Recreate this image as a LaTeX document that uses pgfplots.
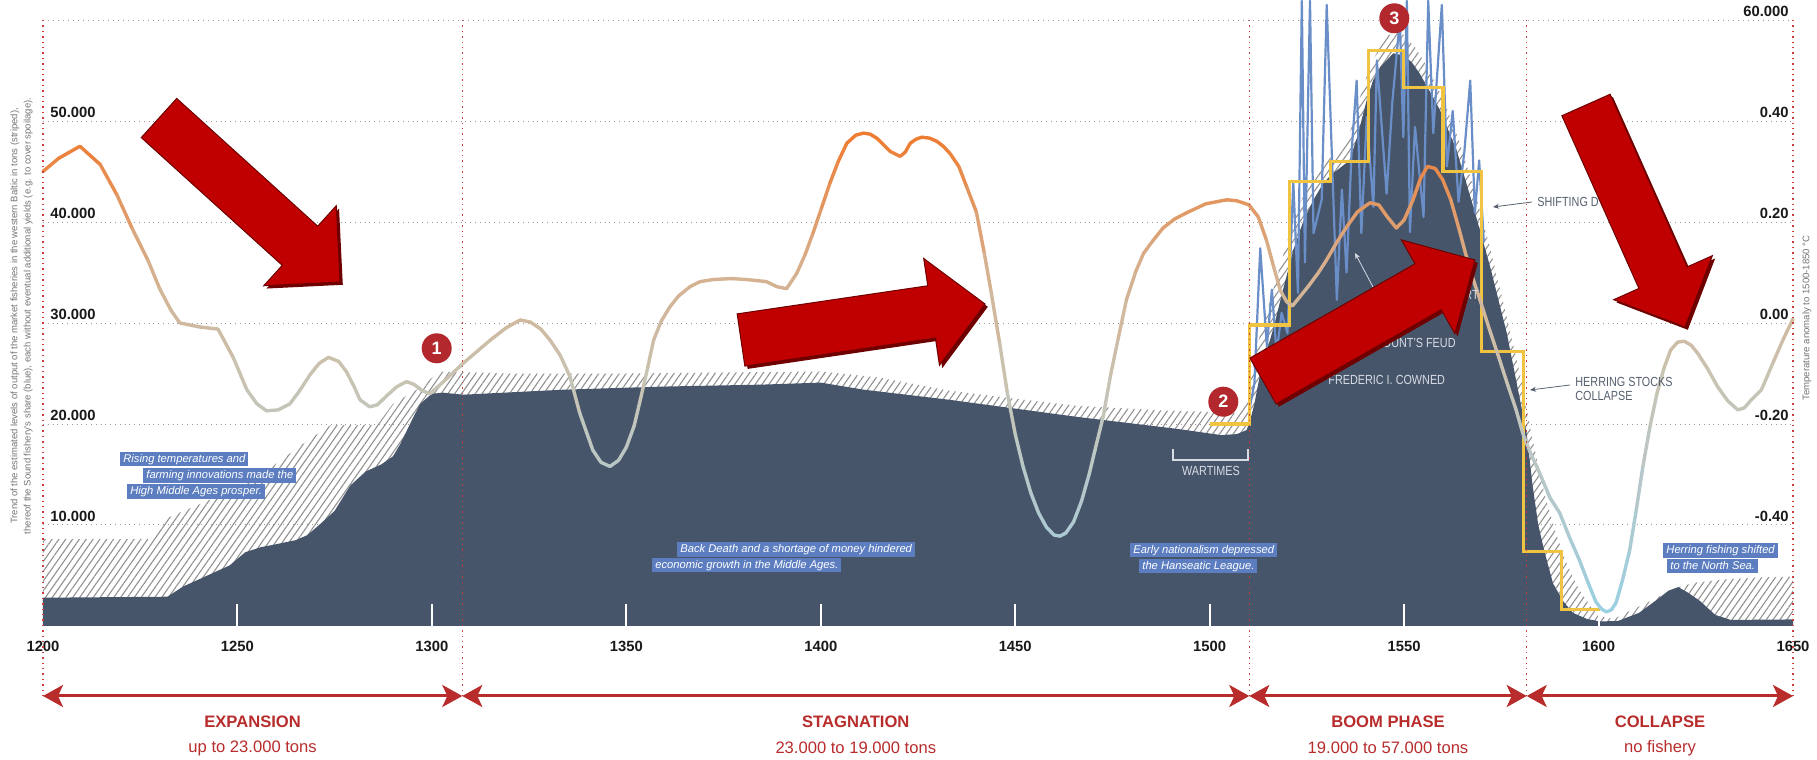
\documentclass[border=0pt]{standalone}
\usepackage{fontspec}
\setmainfont{Liberation Sans}
\newfontfamily\narrowfont[FakeStretch=0.82]{Liberation Sans}
\usepackage{pgfplots}
\usepackage{pgfplotstable}
\pgfplotsset{compat=1.18}
\usetikzlibrary{patterns.meta,calc,arrows.meta}

\definecolor{darkfill}{RGB}{71,85,107}
\definecolor{yellowline}{RGB}{240,196,64}
\definecolor{blueline}{RGB}{106,142,200}
\definecolor{phasered}{RGB}{184,44,44}
\definecolor{arrowred}{RGB}{192,0,0}
\definecolor{arrowdark}{RGB}{110,0,0}
\definecolor{boxblue}{RGB}{92,126,192}
\definecolor{circlered}{RGB}{178,40,45}
\definecolor{graytext}{RGB}{85,95,110}
\definecolor{lighttext}{RGB}{215,220,228}
\definecolor{vred}{RGB}{205,60,60}
\definecolor{hatchgray}{RGB}{145,145,145}

\tikzset{pix/.style={x=0.5pt,y=-0.5pt,shift={(-21.5pt,313pt)}}}

\pgfplotstableread{
year tons
1200 8600
1228 8600
1232 10700
1240 12000
1247 13200
1258 15500
1266 17800
1274 19900
1286 19900
1290 22000
1297 23600
1302 25200
1320 25000
1350 25000
1400 25200
1415 24600
1433 23300
1450 22500
1466 21800
1490 21300
1500 21200
1505 21000
1508 21200
1510 23000
1512 27500
1515 31500
1518 35500
1521 39500
1524 42500
1527 44500
1530 46000
1533 47000
1536 48800
1538 51500
1540 54000
1542 56000
1544 57500
1546 58500
1548 58800
1550 58500
1553 57200
1556 55300
1560 52200
1564 48200
1568 43200
1572 37600
1576 31200
1580 24600
1583 18500
1586 13200
1589 9200
1592 6000
1595 3600
1598 1900
1601 900
1604 700
1608 1500
1612 2200
1616 3000
1620 3800
1625 4300
1632 4600
1641 4800
1650 4900
}\totaltab

\pgfplotstableread{
year tons
1200 2800
1232 2900
1236 3900
1240 4600
1244 5300
1248 6000
1252 7300
1256 7800
1260 8100
1265 8500
1268 9000
1271 10000
1275 11400
1279 13900
1283 15300
1287 16000
1290 16800
1292 18100
1295 20500
1297 22000
1300 23000
1303 23100
1308 22900
1334 23400
1359 23700
1385 23900
1400 24100
1411 23400
1433 22400
1466 20700
1492 19500
1503 18900
1507 19000
1509.5 19400
1510.5 20500
1511.5 22000
1513 25000
1516.4 29500
1519 33500
1521.5 37200
1524 40000
1526.7 42200
1529 43700
1531 44600
1533 45200
1536 46100
1538 48500
1540.4 52100
1542 54000
1544 55400
1547.2 56700
1549.8 56500
1552 55800
1554 54700
1556.5 53000
1559.2 51100
1563.5 47100
1567.8 41500
1572.1 35600
1576.4 29000
1579.8 22400
1581.5 19100
1583 14000
1584.5 10000
1586 7500
1588.3 4200
1591 2400
1593.4 1300
1597 700
1600.4 450
1605 500
1610.4 1300
1615 2600
1618 3500
1620.5 3850
1623 3300
1626 2500
1630 1100
1634 600
1650 650
}\soundtab

\pgfplotstableread{
year tons
1510.0 21000
1511.5 24000
1513.0 37400
1514.7 27700
1516.0 33300
1517.2 27000
1518.5 31000
1520.0 29000
1521.5 44000
1522.7 33000
1523.7 61900
1524.5 36000
1525.8 61900
1526.7 38900
1528.8 42200
1530.1 61500
1532.7 32300
1534.0 43200
1535.2 35000
1536.5 47000
1537.8 54000
1539.0 38900
1540.4 50400
1542.1 41500
1543.0 56000
1545.5 42800
1547.0 52000
1548.9 60000
1549.8 48400
1550.7 61900
1551.5 39000
1552.8 49400
1555.0 40500
1556.2 61900
1557.5 48800
1559.7 61500
1561.0 45500
1562.5 51000
1564.0 42000
1565.5 47000
1567.0 54000
1568.2 40900
1569.3 46100
1570.5 38000
}\yearlytab

\pgfplotstableread{
year tons
1500 20000
1510.3 20000
1510.3 29800
1520.6 29800
1520.6 44000
1531 44000
1531 46000
1540.8 46000
1540.8 57000
1549.9 57000
1549.9 53300
1560 53300
1560 45000
1570 45000
1570 27200
1580.6 27200
1580.6 7400
1590.5 7400
1590.5 1600
1600.3 1600
}\steptab

\pgfplotstableread{
year tons
1200 45000
1204 46300
1209.5 47500
1214.7 45700
1219 42700
1223 39300
1227 36200
1230 33400
1233 31200
1235.2 30000
1240.4 29600
1245 29400
1248.9 26600
1252.4 23400
1255 22000
1257.5 21300
1260.5 21400
1263.5 22000
1266 23300
1268.7 24900
1271 26000
1273.4 26600
1276 26200
1278 25200
1280 23700
1281.5 22400
1284 21700
1286 21900
1288.4 22800
1291 23700
1293.5 24200
1295.5 23900
1297.5 23300
1299.5 23000
1303 24200
1308 26000
1315 28300
1319 29500
1322.7 30300
1325.3 30100
1328 29400
1330.4 28300
1333 26800
1335.5 24700
1338 21100
1341.4 17400
1343.5 16200
1345.8 15800
1348 16400
1350 17700
1352 19800
1353.6 22400
1355.5 25600
1357 28300
1359 30200
1361.2 31600
1363.5 32700
1366.4 33600
1369 34100
1372.3 34300
1377 34400
1381 34300
1386 34100
1388.7 33600
1391.2 33400
1393.8 34900
1396 36800
1398 38900
1400.2 41400
1402.4 43900
1404.5 46000
1406.7 47800
1409 48600
1411 48800
1412.7 48700
1414.4 48300
1416 47700
1417.8 47000
1420.4 46500
1421.7 46900
1423 47800
1424.5 48200
1426 48400
1428 48300
1429.8 48000
1431.5 47500
1433.2 46800
1435.5 45500
1437.5 43500
1440 41000
1442 37000
1443.7 33300
1446 28000
1448 23000
1450 19000
1452 15800
1454 13200
1456 11200
1458 9800
1460 9000
1461.5 8900
1463 9200
1465 10300
1467 12300
1469 15000
1470.5 17400
1472.6 20700
1474.5 24800
1476.5 28500
1478.6 32300
1481 35100
1483 36900
1485.5 38200
1488 39400
1491 40300
1494 40900
1499 41800
1504.4 42200
1507 42100
1510.1 41700
1512.5 40500
1514.6 38200
1516.5 35500
1518.2 33200
1519.8 32100
1521.3 31700
1523.2 32600
1525.5 33700
1528 35000
1530 36200
1532.7 38000
1535.2 39500
1538 41000
1541.2 41900
1543.5 41700
1545.5 40600
1548 39400
1550 40200
1552.3 42200
1554.2 44300
1556 45500
1558 45300
1559.9 44200
1562 42200
1564.2 39200
1566 36600
1567.8 34300
1569.5 32300
1572 29300
1574.6 26300
1576.7 23800
1578.8 21400
1580.5 19100
1582.3 17300
1584.9 15100
1587.5 12700
1590 11200
1592.5 8800
1595.1 6500
1597.3 4300
1599.3 2400
1600.7 1700
1602 1400
1603.3 1600
1604.5 2300
1606.2 4600
1608 7500
1609.7 11500
1611.4 15800
1613.2 19700
1615 23000
1616.8 25500
1618.5 27300
1620.3 28100
1622 28200
1623.8 27800
1625.5 27000
1628 25500
1630.6 23700
1633.2 22300
1635.8 21400
1637.5 21600
1639.3 22400
1641.9 23400
1645 26200
1647.5 28400
1650 30400
}\temptab

\newcommand\bigarrow[4]{%
  \coordinate (A) at (#1,#2);
  \coordinate (B) at (#3,#4);
  \coordinate (H) at ($(B)!27pt!(A)$);
  \coordinate (P1) at ($(A)!13.2pt!90:(B)$);
  \coordinate (P2) at ($(H)!13.2pt!90:(B)$);
  \coordinate (P3) at ($(H)!27pt!90:(B)$);
  \coordinate (P5) at ($(H)!27pt!-90:(B)$);
  \coordinate (P6) at ($(H)!13.2pt!-90:(B)$);
  \coordinate (P7) at ($(A)!13.2pt!-90:(B)$);
  \begin{scope}[transform canvas={shift={(1.4pt,-1.4pt)}}]
    \fill[arrowdark] (P1)--(P2)--(P3)--(B)--(P5)--(P6)--(P7)--cycle;
  \end{scope}
  \filldraw[fill=arrowred, draw=arrowdark, line width=0.5pt, line join=miter]
    (P1)--(P2)--(P3)--(B)--(P5)--(P6)--(P7)--cycle;
}

\begin{document}
\begin{tikzpicture}
\path[use as bounding box] (-21.5pt,-67pt) rectangle (887pt,313pt);
\begin{axis}[
  at={(0,0)}, anchor=south west,
  scale only axis, width=875pt, height=303pt,
  xmin=1200, xmax=1650, ymin=0, ymax=60000,
  clip=false,
  axis line style={draw=none},
  tick style={draw=none},
  xtick={1200,1250,1300,1350,1400,1450,1500,1550,1600,1650},
  xticklabels={1200,1250,1300,1350,1400,1450,1500,1550,1600,1650},
  xticklabel style={font=\bfseries\fontsize{7.4}{8}\selectfont, anchor=center, yshift=-10pt, text=black!90},
  ytick={10000,20000,30000,40000,50000},
  yticklabels={10.000,20.000,30.000,40.000,50.000},
  yticklabel style={font=\bfseries\fontsize{7.4}{8}\selectfont, inner sep=0pt, anchor=south west, xshift=3.5pt, yshift=1.5pt, text=black!90},
  ymajorgrids=true,
  major grid style={dotted, color=black!40, line width=0.5pt},
  colormap={temp}{rgb255(0cm)=(150,210,230) rgb255(1cm)=(178,200,205) rgb255(2cm)=(200,196,180) rgb255(3cm)=(215,175,140) rgb255(4cm)=(238,125,52)},
  point meta min=0, point meta max=48000,
]
\draw[dotted, color=black!40, line width=0.5pt] (axis cs:1200,60000) -- (axis cs:1650,60000);
\addplot[draw=none, pattern={Lines[angle=55,distance=2.8pt,line width=0.55pt]}, pattern color=hatchgray] table[x=year,y=tons] {\totaltab} \closedcycle;
\addplot[draw=none, fill=darkfill] table[x=year,y=tons] {\soundtab} \closedcycle;
\pgfplotsinvokeforeach{1250,1300,1350,1400,1450,1500,1550,1600}{
  \draw[white, line width=1pt] (axis cs:#1,0) -- (axis cs:#1,2150);
}
\addplot[blueline, line width=1.1pt, line join=round] table[x=year,y=tons] {\yearlytab};
\addplot[yellowline, line width=1.6pt, line join=miter] table[x=year,y=tons] {\steptab};
\addplot[mesh, point meta=y, line width=1.7pt, line cap=round, line join=round] table[x=year,y=tons] {\temptab};
\end{axis}
\begin{axis}[
  at={(0,0)}, anchor=south west,
  scale only axis, width=875pt, height=303pt,
  xmin=1200, xmax=1650, ymin=-0.6, ymax=0.6,
  hide x axis,
  axis y line*=right,
  y axis line style={draw=none},
  ytick style={draw=none},
  ytick={-0.4,-0.2,0,0.2,0.4,0.6},
  yticklabels={-0.40,-0.20,0.00,0.20,0.40,60.000},
  yticklabel style={font=\bfseries\fontsize{7.4}{8}\selectfont, inner sep=0pt, anchor=south east, xshift=-2pt, yshift=1.5pt, text=black!90},
]
\addplot[draw=none] coordinates {(1200,0) (1650,0)};
\end{axis}

\begin{scope}[pix]
% red dotted phase separators
\foreach \X in {43,462.3,1249.3,1526.7,1793}{
  \draw[vred, dotted, line width=0.7pt] (\X,20) -- (\X,700);
}
% phase arrows
\tikzset{pharrow/.style={phasered, line width=1.5pt, {Stealth[length=10pt,width=11pt,inset=2.5pt]}-{Stealth[length=10pt,width=11pt,inset=2.5pt]}}}
\draw[pharrow] (43,696) -- (462.3,696);
\draw[pharrow] (462.3,696) -- (1249.3,696);
\draw[pharrow] (1249.3,696) -- (1526.7,696);
\draw[pharrow] (1526.7,696) -- (1793,696);
\tikzset{phtitle/.style={text=phasered, font=\bfseries\fontsize{8.3}{9}\selectfont, inner sep=0pt},
         phsub/.style={text=phasered, font=\fontsize{8.3}{9}\selectfont, inner sep=0pt}}
\node[phtitle] at (252.6,722) {EXPANSION};
\node[phsub] at (252.6,748) {up to 23.000 tons};
\node[phtitle] at (855.8,722) {STAGNATION};
\node[phsub] at (855.8,748) {23.000 to 19.000 tons};
\node[phtitle] at (1388,722) {BOOM PHASE};
\node[phsub] at (1388,748) {19.000 to 57.000 tons};
\node[phtitle] at (1660,722) {COLLAPSE};
\node[phsub] at (1660,748) {no fishery};

% axis titles
\node[rotate=90, align=center, text=black!55, font=\fontsize{4.75}{6.7}\selectfont] at (21.5,316)
  {Trend of the estimated levels of output of the market fisheries in the western Baltic in tons (striped),\\thereof the Sound fishery's share (blue), each without eventual additional yields (e.g. to cover spoilage).};
\node[rotate=90, text=black!55, font=\fontsize{4.8}{5}\selectfont] at (1807,318) {Temperature anomaly to 1500-1850 °C};

% blue text boxes
\tikzset{tbox/.style={fill=boxblue, text=white, font=\itshape\fontsize{5.6}{6}\selectfont, inner xsep=1.5pt, inner ysep=0.9pt, text height=4.2pt, text depth=1.1pt, anchor=west}}
\node[tbox] at (120,459) {Rising temperatures and};
\node[tbox] at (143,475.5) {farming innovations made the};
\node[tbox] at (127,491.5) {High Middle Ages prosper.};
\node[tbox] at (677,549.5) {Back Death and a shortage of money hindered};
\node[tbox] at (652,565) {economic growth in the Middle Ages.};
\node[tbox] at (1130,550) {Early nationalism depressed};
\node[tbox] at (1139,566) {the Hanseatic League.};
\node[tbox] at (1663,550.5) {Herring fishing shifted};
\node[tbox] at (1667,566) {to the North Sea.};

% grey caps annotations
\tikzset{caps/.style={font=\narrowfont\fontsize{6.6}{7.5}\selectfont, inner sep=0pt}}
\node[caps, text=lighttext, anchor=west] at (1328,380) {FREDERIC I. COWNED};
\node[caps, text=lighttext, anchor=east] at (1456,343) {COUNT’S FEUD};
\node[caps, text=lighttext, anchor=east] at (1479,295) {RT};
\draw[lighttext, line width=0.4pt, -{Stealth[length=3pt,width=2.5pt]}] (1373,287) -- (1355,253);
\draw[lighttext, line width=0.6pt] (1173,449) -- (1173,460) -- (1248,460) -- (1248,449);
\node[caps, text=lighttext] at (1211,471) {WARTIMES};
\node[caps, text=graytext, anchor=west] at (1537,202) {SHIFTING D};
\draw[graytext, line width=0.4pt, -{Stealth[length=3pt,width=2.5pt]}] (1532,202) -- (1493,207);
\node[caps, text=graytext, anchor=west] at (1575,382) {HERRING STOCKS};
\node[caps, text=graytext, anchor=west] at (1575,396) {COLLAPSE};
\draw[graytext, line width=0.4pt, -{Stealth[length=3pt,width=2.5pt]}] (1570,385) -- (1530,390);

% big red arrows
\bigarrow{159}{118}{340}{282}
\bigarrow{741}{340}{985}{304}
\bigarrow{1263}{381}{1475}{260}
\bigarrow{1586}{105}{1685}{327}

% numbered circles
\tikzset{num/.style={circle, fill=circlered, text=white, font=\bfseries\fontsize{9}{9}\selectfont, minimum size=15pt, inner sep=0pt}}
\node[num] at (436.7,348.3) {1};
\node[num] at (1223.3,401.7) {2};
\node[num] at (1394.3,18.3) {3};
\end{scope}
\end{tikzpicture}
\end{document}
